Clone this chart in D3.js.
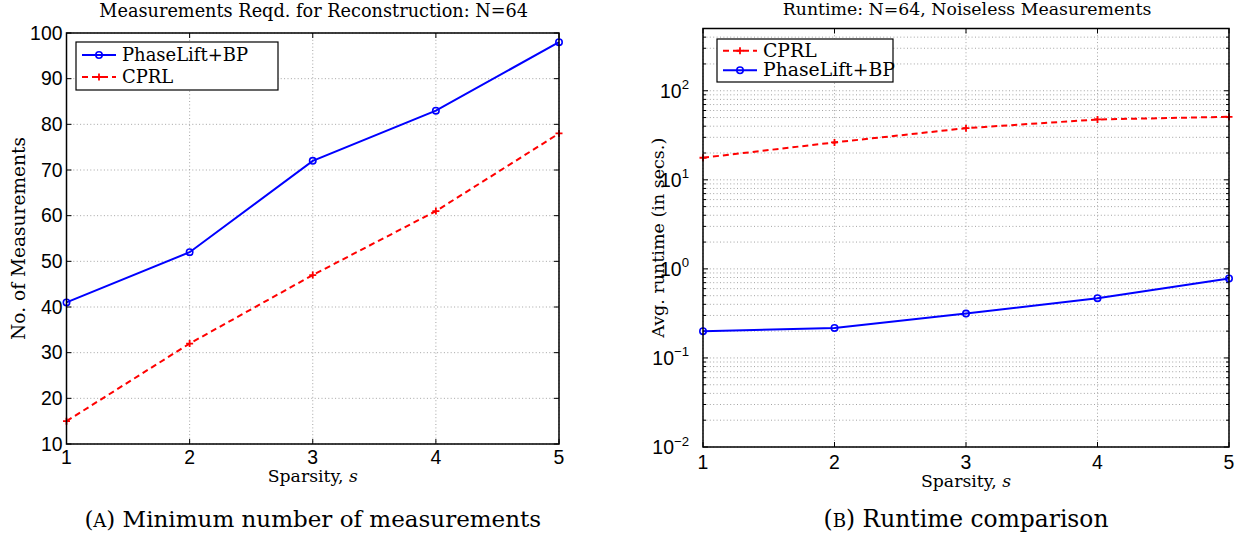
<!DOCTYPE html>
<html>
<head>
<meta charset="utf-8">
<script src="https://cdn.jsdelivr.net/npm/d3@7"></script>
<style>
  body { margin: 0; background: #fff; }
  svg { display: block; }
</style>
</head>
<body>
<svg id="chart"></svg>
<script>
var width = 1240,
    height = 535;

// data
var sparsity = [1, 2, 3, 4, 5];
var measPhaseLift = [41, 52, 72, 83, 98];
var measCPRL = [15, 32, 47, 61, 78];
var runCPRL = [17.7, 26.3, 38, 47.6, 51];
var runPhaseLift = [0.2, 0.217, 0.315, 0.469, 0.78];
var measTicks = [10, 20, 30, 40, 50, 60, 70, 80, 90, 100];
var runTicks = [0.01, 0.1, 1, 10, 100];
var runExponents = ['\u22122', '\u22121', '0', '1', '2'];

var BLUE = '#0000ff',
    RED = '#ff0000',
    SERIF = '"DejaVu Serif", "Liberation Serif", serif',
    SANS = '"Liberation Sans", Arial, sans-serif';

var svg = d3.select('#chart')
    .attr('width', width)
    .attr('height', height);

// shrink or grow a text so that it spans the wanted width
var fit = function (sel, target) {
    var w = sel.node().getComputedTextLength();
    var size = parseFloat(sel.style('font-size'));
    sel.style('font-size', (size * target / w).toFixed(2) + 'px');
    return sel;
};

// tick font size: "10" is about 21.6px wide in the reference
var probe = svg.append('text')
    .style('font-family', SANS)
    .style('font-size', '18px')
    .text('10');
fit(probe, 21.6);
var TICK_SIZE = parseFloat(probe.style('font-size'));
probe.remove();

var panels = [
    {
        box: { left: 66.5, right: 559, top: 33, bottom: 444 },
        title: 'Measurements Reqd. for Reconstruction: N=64',
        titleW: 429,
        titleY: 17,
        yLabel: 'No. of Measurements',
        yLabelW: 203,
        yLabelX: 25,
        xLabelY: 482,
        caption: ['A', ') Minimum number of measurements'],
        captionW: 457,
        yScale: d3.scaleLinear().domain([10, 100]),
        yTicks: measTicks,
        series: [
            { name: 'PhaseLift+BP', values: measPhaseLift, color: BLUE, dash: null, marker: 'circle' },
            { name: 'CPRL', values: measCPRL, color: RED, dash: '6,4', marker: 'plus' }
        ],
        legend: { x: 76, y: 42, w: 202, h: 48, textW: 126 },
        xTickY: 464
    },
    {
        box: { left: 703, right: 1229, top: 28.5, bottom: 447 },
        title: 'Runtime: N=64, Noiseless Measurements',
        titleW: 369,
        titleY: 15,
        yLabel: 'Avg. runtime (in secs.)',
        yLabelW: 200,
        yLabelX: 664,
        xLabelY: 487,
        caption: ['B', ') Runtime comparison'],
        captionW: 285,
        yScale: d3.scaleLog().domain([0.01, 500]),
        yTicks: runTicks,
        log: true,
        series: [
            { name: 'CPRL', values: runCPRL, color: RED, dash: '6,4', marker: 'plus' },
            { name: 'PhaseLift+BP', values: runPhaseLift, color: BLUE, dash: null, marker: 'circle' }
        ],
        legend: { x: 717, y: 39, w: 176, h: 43, textW: 132 },
        xTickY: 469
    }
];

var drawMarker = function (g, type, x, y, color) {
    if (type === 'circle') {
        g.append('circle')
            .attr('cx', x).attr('cy', y).attr('r', 3.2)
            .attr('fill', 'none')
            .attr('stroke', color)
            .attr('stroke-width', 1.6);
    } else {
        g.append('path')
            .attr('d', 'M' + (x - 3.5) + ',' + y + 'H' + (x + 3.5) + 'M' + x + ',' + (y - 3.5) + 'V' + (y + 3.5))
            .attr('stroke', color)
            .attr('stroke-width', 1.8);
    }
};

var draw = function (p) {
    var b = p.box;
    var x = d3.scaleLinear().domain([1, 5]).range([b.left, b.right]);
    var y = p.yScale.range([b.bottom, b.top]);
    var g = svg.append('g');

    // grid
    var grid = g.append('g')
        .attr('stroke', '#9a9a9a')
        .attr('stroke-width', 0.9)
        .attr('stroke-dasharray', '1,2.4');

    var gridY = p.yTicks.slice();
    if (p.log) {
        gridY = [];
        p.yTicks.forEach(function (d) {
            for (var k = 1; k <= 9; k++) {
                var v = d * k;
                if (v <= y.domain()[1]) gridY.push(v);
            }
        });
    }
    grid.selectAll('line.gy')
        .data(gridY)
        .enter().append('line')
        .attr('x1', b.left).attr('x2', b.right)
        .attr('y1', function (d) { return y(d); })
        .attr('y2', function (d) { return y(d); });
    grid.selectAll('line.gx')
        .data(sparsity)
        .enter().append('line')
        .attr('y1', b.top).attr('y2', b.bottom)
        .attr('x1', function (d) { return x(d); })
        .attr('x2', function (d) { return x(d); });

    // inward ticks on all four sides
    var ticks = g.append('g').attr('stroke', '#000').attr('stroke-width', 1);
    sparsity.forEach(function (d) {
        ticks.append('line').attr('x1', x(d)).attr('x2', x(d)).attr('y1', b.bottom).attr('y2', b.bottom - 5);
        ticks.append('line').attr('x1', x(d)).attr('x2', x(d)).attr('y1', b.top).attr('y2', b.top + 5);
    });
    gridY.forEach(function (d) {
        var len = (p.log && p.yTicks.indexOf(d) < 0) ? 3 : 5;
        ticks.append('line').attr('x1', b.left).attr('x2', b.left + len).attr('y1', y(d)).attr('y2', y(d));
        ticks.append('line').attr('x1', b.right).attr('x2', b.right - len).attr('y1', y(d)).attr('y2', y(d));
    });

    // series
    var line = d3.line()
        .x(function (d, i) { return x(sparsity[i]); })
        .y(function (d) { return y(d); });

    p.series.forEach(function (s) {
        g.append('path')
            .datum(s.values)
            .attr('d', line)
            .attr('fill', 'none')
            .attr('stroke', s.color)
            .attr('stroke-width', 2)
            .attr('stroke-dasharray', s.dash);
        s.values.forEach(function (v, i) {
            drawMarker(g, s.marker, x(sparsity[i]), y(v), s.color);
        });
    });

    // frame
    g.append('rect')
        .attr('x', b.left).attr('y', b.top)
        .attr('width', b.right - b.left).attr('height', b.bottom - b.top)
        .attr('fill', 'none')
        .attr('stroke', '#000')
        .attr('stroke-width', 1.5);

    // tick labels
    var labels = g.append('g')
        .style('font-family', SANS)
        .style('font-size', TICK_SIZE + 'px')
        .attr('fill', '#000');
    labels.selectAll('text.xt')
        .data(sparsity)
        .enter().append('text')
        .attr('x', function (d) { return x(d); })
        .attr('y', p.xTickY)
        .attr('text-anchor', 'middle')
        .text(function (d) { return d; });

    if (p.log) {
        p.yTicks.forEach(function (d, i) {
            var t = labels.append('text')
                .attr('x', b.left - 14)
                .attr('y', y(d) + 7)
                .attr('text-anchor', 'end');
            t.append('tspan').text('10');
            t.append('tspan')
                .attr('dy', -8.5)
                .style('font-size', (TICK_SIZE * 0.68) + 'px')
                .text(runExponents[i]);
        });
    } else {
        labels.selectAll('text.yt')
            .data(p.yTicks)
            .enter().append('text')
            .attr('x', b.left - 4)
            .attr('y', function (d) { return y(d) + 6.5; })
            .attr('text-anchor', 'end')
            .text(function (d) { return d; });
    }

    // title and axis labels
    var cx = (b.left + b.right) / 2;
    var title = g.append('text')
        .attr('x', cx + 1).attr('y', p.titleY)
        .attr('text-anchor', 'middle')
        .style('font-family', SERIF)
        .style('font-size', '15px')
        .text(p.title);
    fit(title, p.titleW);

    var xl = g.append('text')
        .attr('x', cx).attr('y', p.xLabelY)
        .attr('text-anchor', 'middle')
        .style('font-family', SERIF)
        .style('font-size', '15px');
    xl.append('tspan').text('Sparsity, ');
    xl.append('tspan').style('font-style', 'italic').text('s');
    fit(xl, 90);

    var yl = g.append('text')
        .attr('transform', 'translate(' + p.yLabelX + ',' + ((b.top + b.bottom) / 2) + ') rotate(-90)')
        .attr('text-anchor', 'middle')
        .style('font-family', SERIF)
        .style('font-size', '15px')
        .text(p.yLabel);
    fit(yl, p.yLabelW);

    // caption with small caps letter
    var cap = g.append('text')
        .attr('x', cx).attr('y', 527)
        .attr('text-anchor', 'middle')
        .style('font-family', SERIF)
        .style('font-size', '20px');
    cap.append('tspan').text('(');
    cap.append('tspan').style('font-size', '0.78em').text(p.caption[0]);
    cap.append('tspan').text(p.caption[1]);
    fit(cap, p.captionW);

    // legend
    var L = p.legend;
    var lg = g.append('g');
    lg.append('rect')
        .attr('x', L.x).attr('y', L.y)
        .attr('width', L.w).attr('height', L.h)
        .attr('fill', '#fff')
        .attr('stroke', '#000')
        .attr('stroke-width', 1.2);
    var rowH = (L.h - 4) / p.series.length;
    var fontSize = null;
    p.series.forEach(function (s, i) {
        var ry = L.y + 2 + rowH * (i + 0.5);
        lg.append('line')
            .attr('x1', L.x + 6).attr('x2', L.x + 40)
            .attr('y1', ry).attr('y2', ry)
            .attr('stroke', s.color)
            .attr('stroke-width', 2)
            .attr('stroke-dasharray', s.dash);
        drawMarker(lg, s.marker, L.x + 23, ry, s.color);
        var t = lg.append('text')
            .attr('x', L.x + 46)
            .attr('y', ry + 6)
            .style('font-family', SERIF)
            .style('font-size', '16px')
            .text(s.name);
        if (s.name === 'PhaseLift+BP') {
            fit(t, L.textW);
            fontSize = t.style('font-size');
        }
    });
    lg.selectAll('text').style('font-size', fontSize);
};

panels.forEach(draw);
</script>
</body>
</html>
